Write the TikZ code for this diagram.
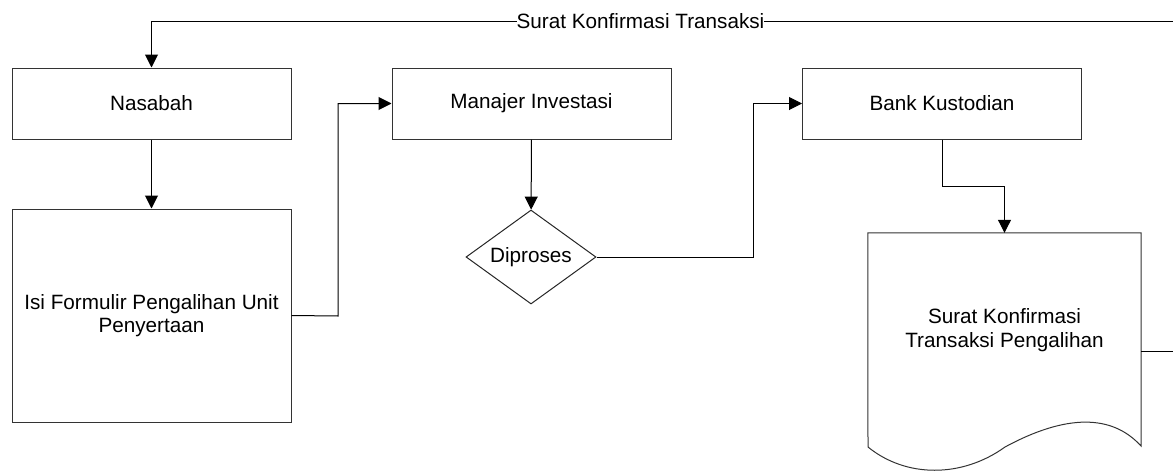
\documentclass[tikz,border=0pt]{standalone}
\usepackage{fontspec}
\setmainfont{Liberation Sans}
\usetikzlibrary{arrows.meta,shapes.geometric}
\begin{document}
\begin{tikzpicture}[x=1pt,y=-1pt,
  every node/.style={font=\fontsize{20.7}{23.5}\selectfont, inner sep=0pt},
  box/.style={draw=black!80, line width=1pt, minimum width=279pt, minimum height=71pt, align=center},
  decision/.style={draw=black!85, line width=1pt, shape=diamond, aspect=1.38, minimum width=130pt, minimum height=94pt},
  arr/.style={line width=1pt, -{Triangle[length=13pt,width=13pt]}},
  outline/.style={draw=black!80, line width=1pt}]
\useasboundingbox (0,0) rectangle (1173,471);
\clip (0,0) rectangle (1173,471);
% nodes
\node[box] (nas) at (151.5,103.5) {Nasabah};
\node[box, minimum height=213pt] (isi) at (151.5,315.5) {Isi Formulir Pengalihan Unit\\Penyertaan};
\node[box] (man) at (531.5,103.5) {Manajer Investasi};
\node[decision] (dip) at (531,257) {Diproses};
\node[box] (bank) at (942,103.5) {Bank Kustodian};
% document shape
\node[minimum width=273pt, minimum height=237pt] (doc) at (1004.5,351.5) {};
\draw[outline] (doc.north west) -- (doc.north east) -- (1141,446)
  .. controls (1112,414) and (1066,414) .. (1005,447)
  .. controls (962,478) and (906,478) .. (868,447) -- cycle;
\node[align=center] (doctext) at (1004.5,330) {Surat Konfirmasi\\Transaksi Pengalihan};
% helper coordinates
\coordinate (j1) at (338,316);
\coordinate (j2) at (753,257);
\coordinate (j3) at (1004.5,186);
\coordinate (j4) at (1200,21);
% connectors
\draw[arr] (nas) -- (isi);
\draw[arr] (isi.east) -- (j1) |- (man.west);
\draw[arr] (man) -- (dip);
\draw[arr] (dip.east) -- (j2) |- (bank.west);
\draw[arr] (bank.south) |- (j3) -- (doc.north);
\draw[arr] (doc.east) -| (j4) -| (nas.north);
\node[fill=white] (lbl) at (640.5,21) {Surat Konfirmasi Transaksi};
\end{tikzpicture}
\end{document}
